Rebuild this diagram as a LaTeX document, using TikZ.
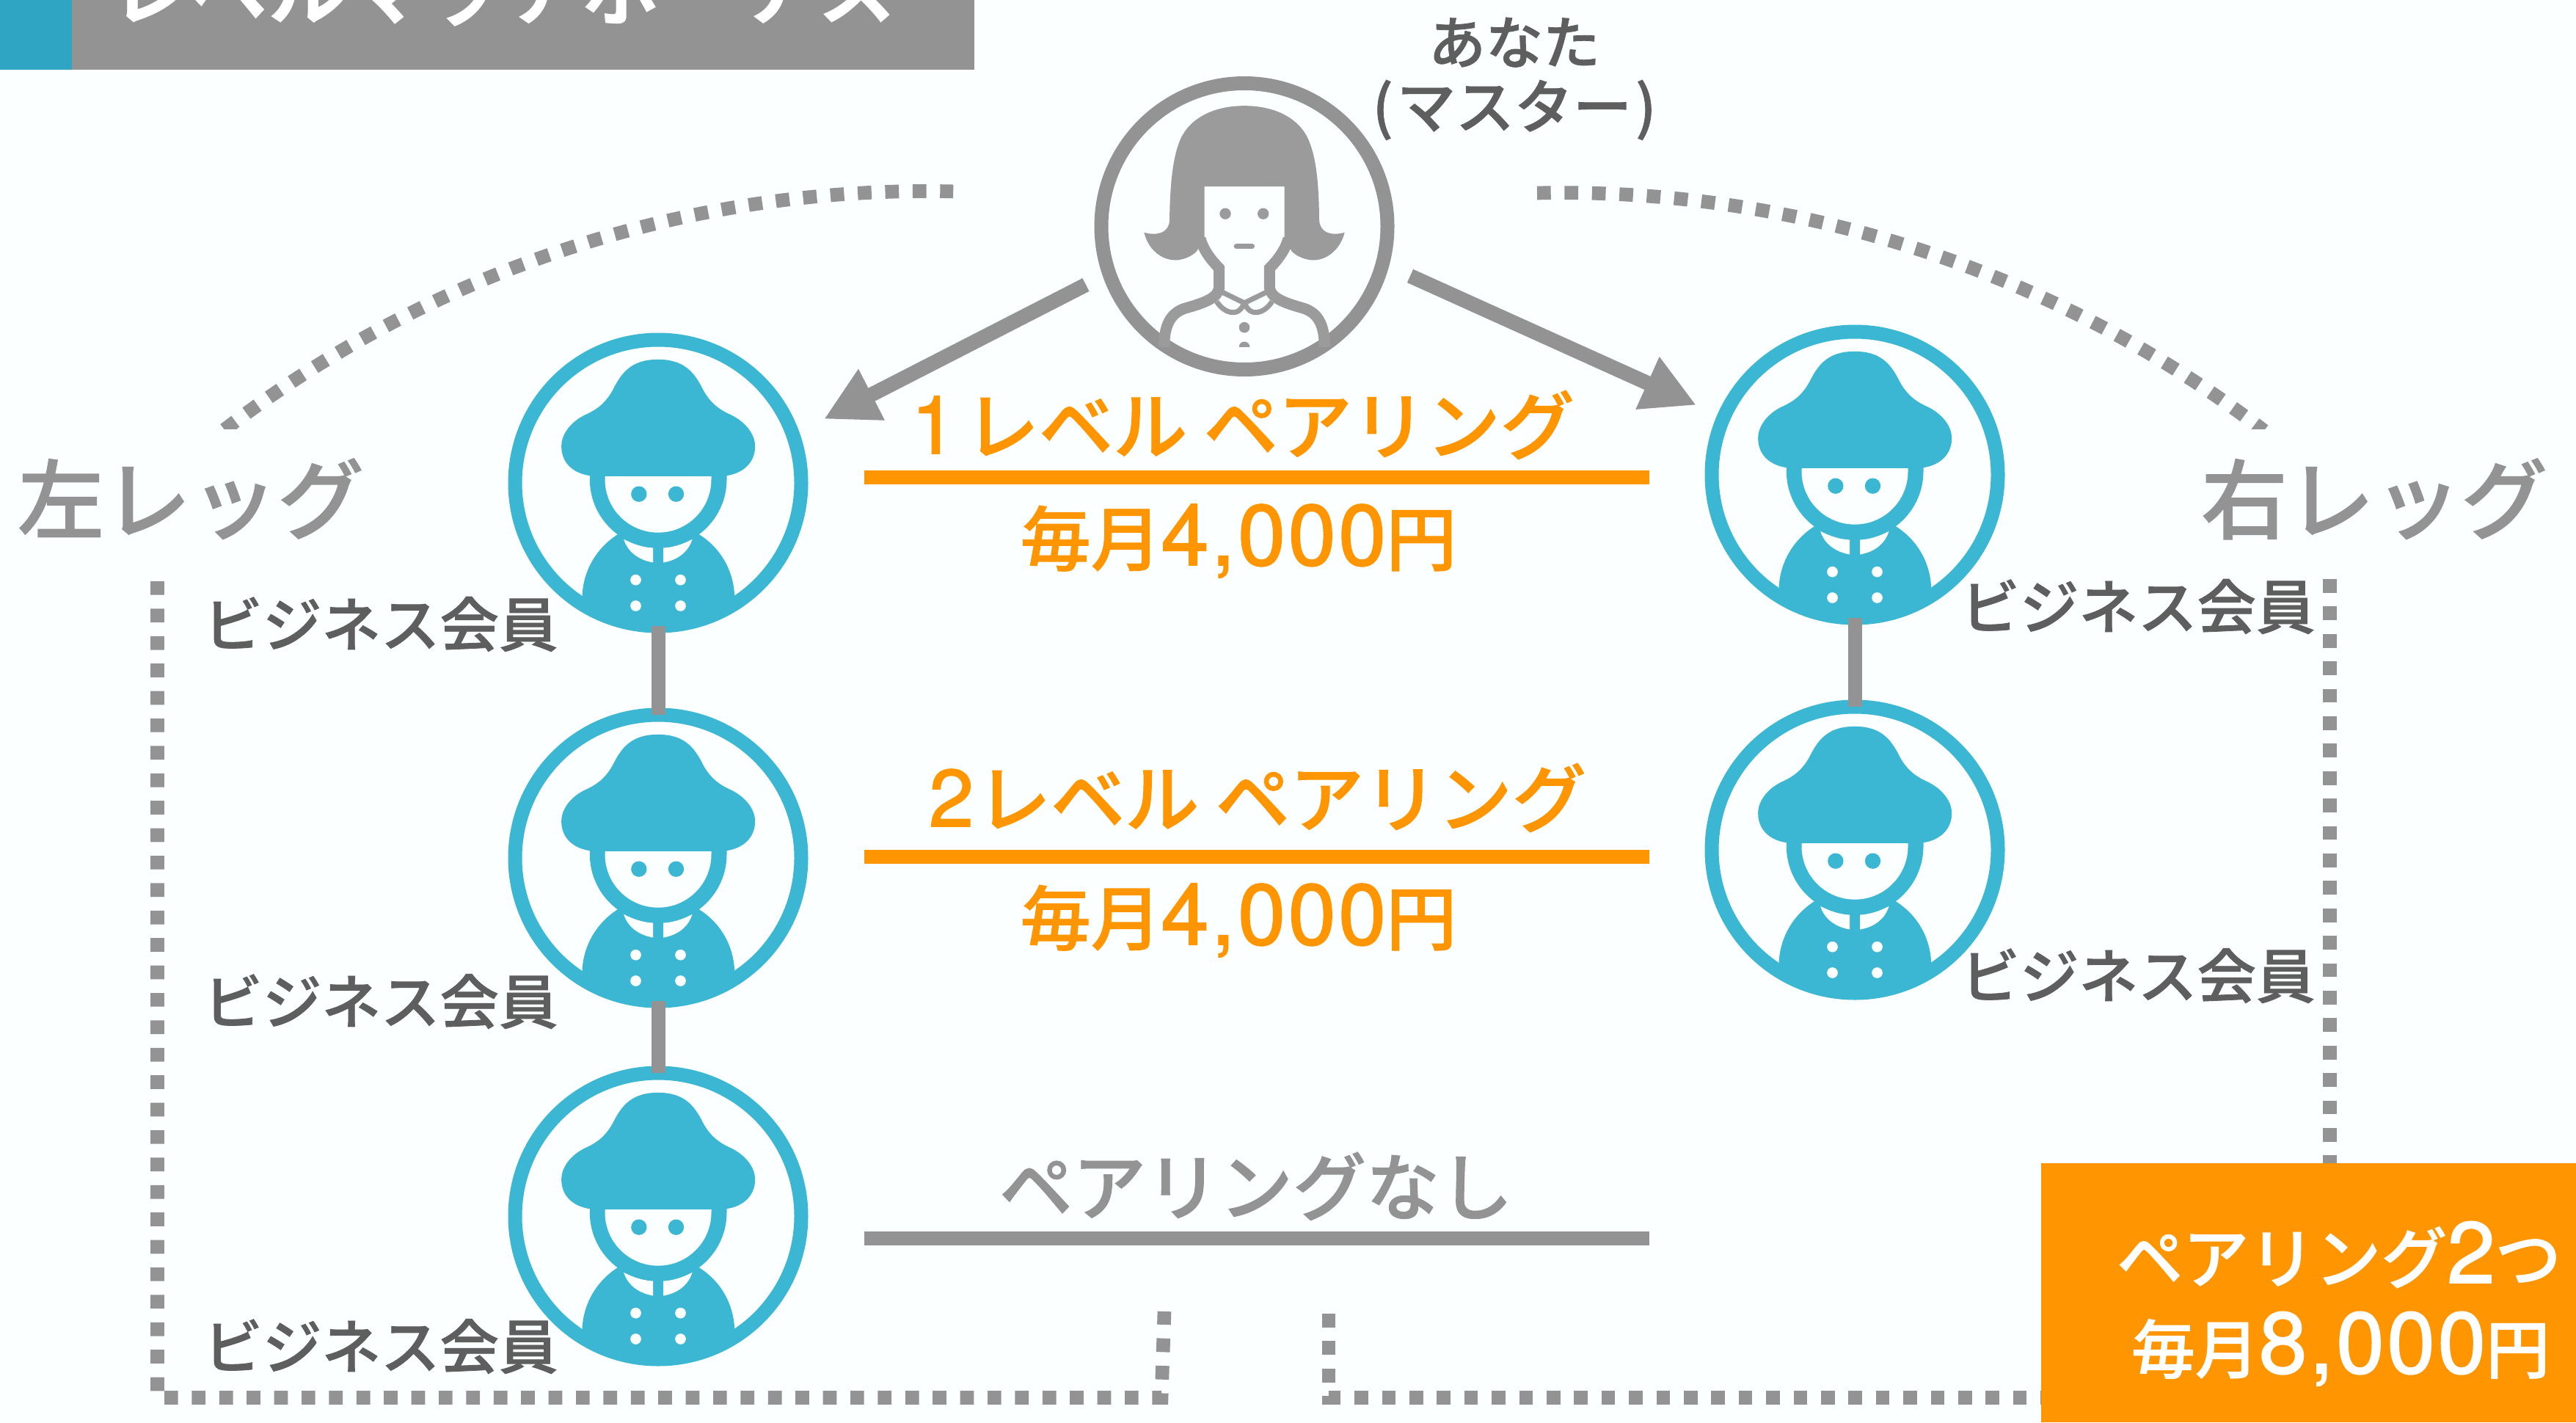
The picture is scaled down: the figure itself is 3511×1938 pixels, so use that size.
\documentclass[tikz,border=0pt]{standalone}
\usepackage{fontspec}
\usetikzlibrary{arrows.meta}
\setmainfont{Noto Sans CJK JP}
\newfontfamily\jpm[FakeBold=1]{Noto Sans CJK JP Medium}
\newfontfamily\jpb{Noto Sans CJK JP Bold}
\newfontfamily\numf[LetterSpace=3,FakeBold=1.5]{TeX Gyre Heros}
\newcommand{\szf}[1]{\fontsize{#1}{#1}\selectfont}
\newcommand{\jpt}[2]{{\jpm\szf{#1}#2}}
\newcommand{\dgt}[2]{{\numf\szf{#1}#2}}
\definecolor{bgc}{HTML}{FCFFFF}
\definecolor{grayc}{HTML}{939393}
\definecolor{hairc}{HTML}{9B9B9B}
\definecolor{tealc}{HTML}{3BB6D3}
\definecolor{headt}{HTML}{30A5C3}
\definecolor{orangec}{HTML}{FF9500}
\definecolor{darkc}{HTML}{5E5E5E}
\tikzset{
  x=1pt,y=-1pt,
  ringb/.style={circle,draw=tealc,line width=19pt,minimum size=390pt,inner sep=0pt,outer sep=0pt},
  ringm/.style={circle,draw=grayc,line width=19pt,minimum size=390pt,inner sep=0pt,outer sep=0pt},
  vlink/.style={draw=grayc,line width=19pt},
  hbar/.style={line width=19pt},
  bigarrow/.style={draw=grayc,fill=grayc,line width=20pt,-{Triangle[length=73pt,width=73pt]}},
  legdash/.style={draw=grayc,line width=18.7pt,dash pattern=on 18.7pt off 18.7pt},
  lab/.style={anchor=base,inner sep=0pt,outer sep=0pt},
  memlab/.style={lab,text=darkc},
  orgtxt/.style={lab,text=orangec},
  graytxt/.style={lab,text=grayc},
  whitetxt/.style={lab,text=white},
  member/.pic={
    \begin{scope}[scale=1/3,shift={(-680.5,-654.5)}]
      \begin{scope}
        \clip (680.5,654.5) circle[radius=590];
        \fill[tealc] (370,1115) .. controls (375,1010) and (430,920) .. (515,865) -- (848,865)
          .. controls (935,920) and (988,1010) .. (993,1115) -- (993,1300) -- (370,1300) -- cycle;
      \end{scope}
      \fill[bgc] (540,885) .. controls (590,910) and (625,918) .. (660,920) -- (660,980) .. controls (600,970) and (555,935) .. (540,885) -- cycle;
      \fill[bgc] (820,885) .. controls (770,910) and (735,918) .. (702,920) -- (702,980) .. controls (762,970) and (805,935) .. (820,885) -- cycle;
      \foreach \bx/\by in {589/1051,772/1051,589/1157,772/1157}
        \fill[bgc] (\bx,\by) circle[radius=22];
      \fill[tealc] (402,625) .. controls (330,615) and (285,570) .. (285,505) .. controls (285,450) and (330,400) .. (385,375)
        .. controls (440,350) and (470,320) .. (495,275) .. controls (530,205) and (570,150) .. (680,150)
        .. controls (790,150) and (830,205) .. (865,275) .. controls (890,320) and (920,350) .. (975,375)
        .. controls (1030,400) and (1077,450) .. (1077,505) .. controls (1077,570) and (1030,615) .. (960,625) -- cycle;
      \fill[tealc] (401,620) -- (961,620) -- (961,640) arc[start angle=0,end angle=180,radius=280] -- cycle;
      \fill[bgc] (463,628) -- (898,628) -- (898,640) arc[start angle=0,end angle=180,radius=217.5] -- cycle;
      \fill[tealc] (602,700) circle[radius=32];
      \fill[tealc] (754,700) circle[radius=32];
    \end{scope}
  },
  master/.pic={
    \begin{scope}[scale=1/3,shift={(-738,-655)}]
      \fill[hairc] (738,162) .. controls (860,162) and (960,210) .. (1000,300) .. controls (1035,380) and (1043,500) .. (1044,630)
        .. controls (1048,680) and (1090,695) .. (1148,680) .. controls (1130,750) and (1075,795) .. (1015,793)
        .. controls (980,790) and (950,775) .. (932,757) -- (902,700) -- (902,492) -- (575,492) -- (575,700) -- (543,757)
        .. controls (525,775) and (495,790) .. (462,793) .. controls (400,795) and (345,750) .. (328,680)
        .. controls (385,695) and (430,680) .. (432,630) .. controls (434,500) and (442,380) .. (476,300)
        .. controls (516,210) and (616,162) .. (738,162) -- cycle;
      \draw[hairc,line width=15pt] (558,705) .. controls (570,750) and (600,790) .. (635,826) -- (635,905)
        .. controls (630,945) and (585,965) .. (495,990) .. controls (435,1010) and (410,1060) .. (410,1148);
      \draw[hairc,line width=15pt] (918,705) .. controls (906,750) and (876,790) .. (841,826) -- (841,905)
        .. controls (846,945) and (891,965) .. (981,990) .. controls (1041,1010) and (1066,1060) .. (1066,1148);
      \draw[hairc,line width=7pt] (650,925) -- (738,968) -- (826,925);
      \draw[hairc,line width=7pt] (625,962) .. controls (650,1005) and (715,1035) .. (738,965);
      \draw[hairc,line width=7pt] (851,962) .. controls (826,1005) and (761,1035) .. (738,965);
      \fill[hairc] (738,1068) circle[radius=22];
      \fill[hairc] (716,1148) arc[start angle=180,end angle=360,radius=22] -- cycle;
      \fill[hairc] (660,603) circle[radius=23];
      \fill[hairc] (815,603) circle[radius=23];
      \draw[hairc,line width=6.7pt,line cap=round] (705,737) -- (770,737);
    \end{scope}
  }
}
\begin{document}
\begin{tikzpicture}
\useasboundingbox (0,0) rectangle (3511,1938);
\fill[bgc] (0,0) rectangle (3511,1938);
\begin{scope}
\clip (0,0) rectangle (3511,1938);
% header
\node[fill=grayc,anchor=north west,minimum width=1328pt,minimum height=95pt,inner sep=0pt,outer sep=0pt] (headbar) at (0,0) {};
\node[fill=headt,anchor=north west,minimum width=98pt,minimum height=95pt,inner sep=0pt,outer sep=0pt] (headmark) at (0,0) {};
\node[whitetxt] (title) at (686,26) {{\jpb\szf{107}レベルマッチボーナス}};
\end{scope}
% dotted arcs
\begin{scope}
\clip (0,0) rectangle (3511,584);
\draw[legdash] (306,585.5) arc[start angle=-127.5,end angle=-88.7,radius=1573];
\draw[legdash] (2095,263) arc[start angle=-91.2,end angle=-52.6,radius=1577];
\end{scope}
% dotted brackets
\coordinate (lbt) at (214.5,792);
\coordinate (lbc) at (214.5,1904.5);
\coordinate (lbe) at (1583,1904.5);
\coordinate (lbu) at (1587,1787);
\coordinate (rbu) at (1811,1790);
\coordinate (rbc) at (1811,1904.5);
\coordinate (rbe) at (2790,1904.5);
\coordinate (rvt) at (3175.5,789);
\coordinate (rvb) at (3175.5,1590);
\draw[legdash] (lbt) -- (lbc) -- (lbe) -- (lbu);
\draw[legdash] (rbu) -- (rbc) -- (rbe);
\draw[legdash] (rvt) -- (rvb);
% rings
\node[ringm] (you) at (1696,308.5) {};
\node[ringb] (l1) at (897,658) {};
\node[ringb] (l2) at (897,1169) {};
\node[ringb] (l3) at (897,1657) {};
\node[ringb] (r1) at (2528,647) {};
\node[ringb] (r2) at (2528,1158) {};
\pic at (you) {master};
\pic at (l1) {member};
\pic at (l2) {member};
\pic at (l3) {member};
\pic at (r1) {member};
\pic at (r2) {member};
\draw[vlink] (l1) -- (l2);
\draw[vlink] (l2) -- (l3);
\draw[vlink] (r1) -- (r2);
% arrows
\coordinate (als) at (1480,388);
\coordinate (ale) at (1123,571);
\coordinate (ars) at (1922,376);
\coordinate (are) at (2312,552);
\draw[bigarrow] (als) -- (ale);
\draw[bigarrow] (ars) -- (are);
% bars
\coordinate (b1a) at (1178,650.5);
\coordinate (b1b) at (2247.5,650.5);
\coordinate (b2a) at (1178,1167);
\coordinate (b2b) at (2247.5,1167);
\coordinate (b3a) at (1178,1687.5);
\coordinate (b3b) at (2247.5,1687.5);
\draw[hbar,orangec] (b1a) -- (b1b);
\draw[hbar,orangec] (b2a) -- (b2b);
\draw[hbar,grayc] (b3a) -- (b3b);
% bar texts
\node[orgtxt] (t1) at (1694,618) {\dgt{110}{1}\hspace{12pt}\jpt{101}{レベル ペアリング}};
\node[orgtxt] (p1) at (1688,770) {\jpt{96}{毎月}\dgt{117}{4,000}\jpt{96}{円}};
\node[orgtxt] (t2) at (1714,1126) {\dgt{110}{2}\hspace{4pt}\jpt{101}{レベル ペアリング}};
\node[orgtxt] (p2) at (1688,1287) {\jpt{96}{毎月}\dgt{117}{4,000}\jpt{96}{円}};
\node[graytxt] (t3) at (1712,1655) {\jpt{100}{ペアリングなし}};
% leg labels
\node[graytxt] (legl) at (260,725) {\jpt{118}{左レッグ}};
\node[graytxt] (legr) at (3236,725) {\jpt{118}{右レッグ}};
% member labels
\node[memlab] (ml1) at (519,881) {\jpt{80.5}{ビジネス会員}};
\node[memlab] (ml2) at (519,1395) {\jpt{80.5}{ビジネス会員}};
\node[memlab] (ml3) at (519,1865) {\jpt{80.5}{ビジネス会員}};
\node[memlab] (mr1) at (2914,857) {\jpt{80.5}{ビジネス会員}};
\node[memlab] (mr2) at (2914,1360) {\jpt{80.5}{ビジネス会員}};
\node[memlab] (you1) at (2064,87) {\jpt{78}{あなた}};
\node[memlab] (you2) at (2064,175) {\jpt{80}{(\hspace{5pt}マスター\hspace{5pt})}};
% pay box
\node[fill=orangec,anchor=north west,minimum width=729pt,minimum height=353pt,inner sep=0pt,outer sep=0pt] (paybox) at (2782,1585) {};
\node[whitetxt] (pay1) at (3188,1748) {\jpt{90}{ペアリング}\dgt{118}{2}\jpt{90}{つ}};
\node[whitetxt] (pay2) at (3190,1871) {\jpt{87}{毎月}\dgt{118}{8,000}\jpt{87}{円}};
\end{tikzpicture}
\end{document}
